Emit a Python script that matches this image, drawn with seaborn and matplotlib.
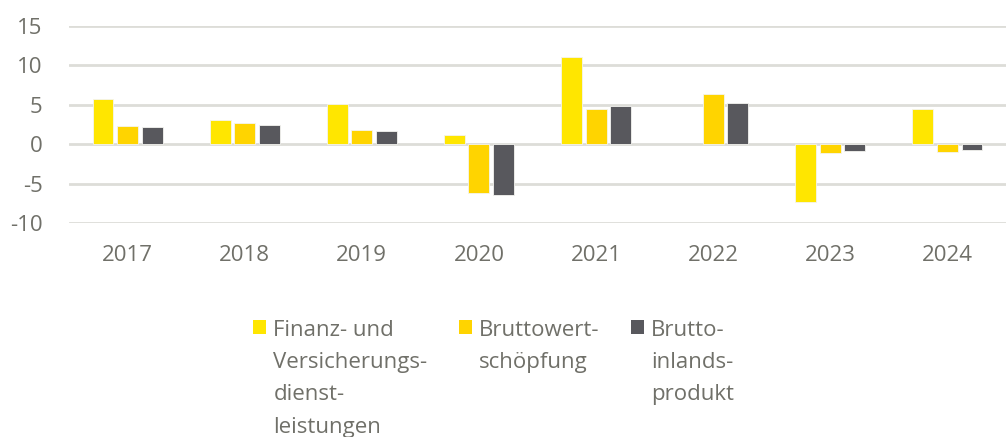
import matplotlib
matplotlib.use("Agg")
import matplotlib.pyplot as plt
import seaborn as sns
import pandas as pd
import numpy as np
from matplotlib.patches import Patch

# values (change vs. previous year, %)
years = ["2017", "2018", "2019", "2020", "2021", "2022", "2023", "2024"]
finanz = [5.7, 3.05, 5.1, 1.15, 11.1, np.nan, -7.3, 4.5]
bws = [2.3, 2.65, 1.75, -6.2, 4.45, 6.4, -1.1, -1.0]
bip = [2.2, 2.4, 1.7, -6.4, 4.85, 5.25, -0.85, -0.7]

series = ["Finanz- und Versicherungsdienstleistungen", "Bruttowertschöpfung",
          "Bruttoinlandsprodukt"]
legend_labels = ["Finanz- und\nVersicherungs-\ndienst-\nleistungen",
                 "Bruttowert-\nschöpfung",
                 "Brutto-\ninlands-\nprodukt"]
colors = ["#FFE600", "#FFD400", "#58585D"]
text_color = "#707069"
grid_color = "#DDDDD8"

df = pd.DataFrame({
    "Jahr": years * 3,
    "Wert": finanz + bws + bip,
    "Reihe": [series[0]] * 8 + [series[1]] * 8 + [series[2]] * 8,
})

sns.set_style("white")
plt.rcParams["font.family"] = ["Open Sans", "DejaVu Sans"]
plt.rcParams["axes.unicode_minus"] = False

fig = plt.figure(figsize=(10.06, 4.37), dpi=100)
ax = fig.add_axes([0.0686, 0.4897, 0.9314, 0.4508])

sns.barplot(data=df, x="Jahr", y="Wert", hue="Reihe", palette=colors,
            saturation=1, width=0.63, gap=0.15, edgecolor="#F4F4F0",
            linewidth=0.6, legend=False, ax=ax, zorder=3)

ax.set_ylim(-10, 15)
ax.set_yticks([-10, -5, 0, 5, 10, 15])
ax.set_xlim(-0.5, 7.5)
ax.yaxis.grid(True, color=grid_color, linewidth=2, zorder=0)
ax.set_axisbelow(True)
for s in ax.spines.values():
    s.set_visible(False)
ax.set_xlabel("")
ax.set_ylabel("")
ax.tick_params(axis="y", length=0, pad=19, labelsize=16, labelcolor=text_color)
ax.tick_params(axis="x", length=0, pad=16, labelsize=16, labelcolor=text_color)

handles = [Patch(facecolor=c, edgecolor="none") for c in colors]
leg = fig.legend(handles, legend_labels, loc="upper left",
                 bbox_to_anchor=(253 / 1006, 1 - 320 / 437), ncol=3,
                 frameon=False, fontsize=16, handlelength=0.6, handleheight=0.6,
                 handletextpad=0.32, columnspacing=1.4, borderpad=0,
                 borderaxespad=0, labelcolor=text_color)
for t in leg.get_texts():
    t.set_linespacing(1.7)
# columns start at the top, square next to the first line of each label
leg._legend_handle_box.align = "top"
for col in leg._legend_handle_box.get_children():
    for row in col.get_children():
        row.align = "top"

fig.savefig("out.png", dpi=100)
